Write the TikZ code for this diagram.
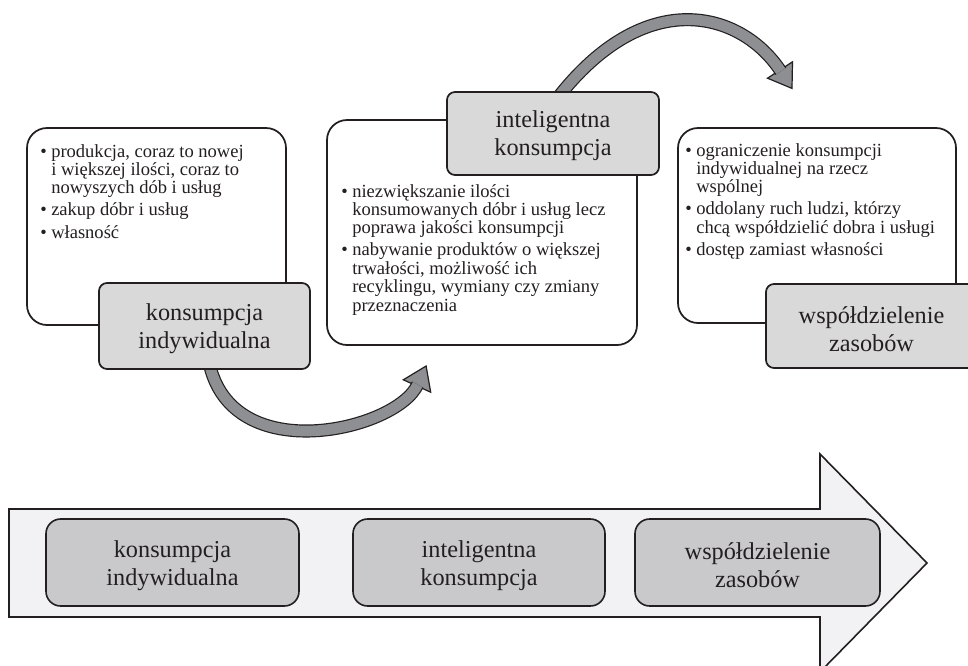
\documentclass[tikz,border=0pt]{standalone}
\usepackage{fontspec}
\setmainfont{Liberation Serif}
\usetikzlibrary{fit}
\definecolor{txt}{HTML}{231F20}
\definecolor{lbl}{HTML}{D9D9DA}
\definecolor{lblb}{HTML}{C9C9CB}
\definecolor{arr}{HTML}{8E8F92}
\definecolor{big}{HTML}{F2F2F4}
\begin{document}
\begin{tikzpicture}[x=0.75pt,y=-0.75pt,
  every node/.style={text=txt},
  whitebox/.style={draw=txt, line width=1.3pt, fill=white, rounded corners=15pt, inner sep=0pt},
  toplabel/.style={draw=txt, line width=1.3pt, fill=lbl, rounded corners=6pt, inner sep=0pt},
  botlabel/.style={draw=txt, line width=1.2pt, fill=lblb, rounded corners=11pt, inner sep=0pt},
  lbltext/.style={inner sep=0pt, align=center, font=\fontsize{18.2}{21}\selectfont},
  bullets/.style={anchor=base west, inner sep=0pt, font=\fontsize{13.9}{13.8}\selectfont},
  band/.style={line width=0.9pt, draw=txt, double=arr, double distance=8pt},
  headtri/.style={fill=arr, draw=txt, line width=0.9pt, line join=miter},
  bigarrow/.style={fill=big, draw=txt, line width=1.2pt, line join=miter}
]
\clip (0,0) rectangle (968,665);
\fill[white] (0,0) rectangle (968,665);

% bottom timeline arrow
\draw[bigarrow] (9,509) -- (820,509) -- (820,454) -- (927,563) -- (820,672) -- (820,617) -- (9,617) -- cycle;
\node[botlabel, fit={(46,519) (299,606)}] (s1) {};
\node[botlabel, fit={(353,519) (605,606)}] (s2) {};
\node[botlabel, fit={(635,519) (880,606)}] (s3) {};
\node[lbltext] (s1t) at (172.5,565.5) {konsumpcja\\indywidualna};
\node[lbltext] (s2t) at (479,565.5) {inteligentna\\konsumpcja};
\node[lbltext] (s3t) at (757.5,565.5) {współdzielenie\\zasobów};

% white boxes
\node[whitebox, fit={(27,128) (286,325)}] (w1) {};
\node[whitebox, fit={(327,120) (637,345)}] (w2) {};
\node[whitebox, fit={(678,128) (956,323)}] (w3) {};

\node[bullets] (t1) at (40,157) {\begin{tabular}[t]{@{}p{8.25pt}@{}l@{}}
•&produkcja, coraz to nowej\\
&i większej ilości, coraz to\\
&nowyszych dób i usług\\[2.8pt]
•&zakup dóbr i usług\\[2.8pt]
•&własność
\end{tabular}};

\node[bullets] (t2) at (341,197) {\begin{tabular}[t]{@{}p{8.25pt}@{}l@{}}
•&niezwiększanie ilości\\
&konsumowanych dóbr i usług lecz\\
&poprawa jakości konsumpcji\\[2.8pt]
•&nabywanie produktów o większej\\
&trwałości, możliwość ich\\
&recyklingu, wymiany czy zmiany\\
&przeznaczenia
\end{tabular}};

\node[bullets] (t3) at (685,156) {\begin{tabular}[t]{@{}p{8.25pt}@{}l@{}}
•&ograniczenie konsumpcji\\
&indywidualnej na rzecz\\
&wspólnej\\[2.8pt]
•&oddolany ruch ludzi, którzy\\
&chcą współdzielić dobra i usługi\\[2.8pt]
•&dostęp zamiast własności
\end{tabular}};

% curved arrow 1 (below)
\coordinate (a1s) at (209,362);
\coordinate (a1e) at (417.6,384.6);
\coordinate (a1t) at (426.1,366);
\coordinate (a1b1) at (430.7,392.2);
\coordinate (a1b2) at (403.3,379.8);
\draw[headtri] (a1b1) -- (a1t) -- (a1b2) -- cycle;
\draw[band] (a1s) .. controls (231,470) and (397,430) .. (a1e);

% curved arrow 2 (above)
\coordinate (a2s) at (556,100);
\coordinate (a2e) at (780.8,71.3);
\coordinate (a2t) at (792,88.4);
\coordinate (a2b1) at (792.5,61.8);
\coordinate (a2b2) at (767.5,78.2);
\draw[headtri] (a2b1) -- (a2t) -- (a2b2) -- cycle;
\draw[band] (a2s) .. controls (645.2,-16.2) and (741.5,11.5) .. (a2e);

% grey labels
\node[toplabel, fit={(99,283) (310,369)}] (l1) {};
\node[toplabel, fit={(447,92) (659,175)}] (l2) {};
\node[toplabel, fit={(766,284) (977,368)}] (l3) {};
\node[lbltext] (l1t) at (204.5,329) {konsumpcja\\indywidualna};
\node[lbltext] (l2t) at (553,136) {inteligentna\\konsumpcja};
\node[lbltext] (l3t) at (871.5,329) {współdzielenie\\zasobów};
\end{tikzpicture}
\end{document}
